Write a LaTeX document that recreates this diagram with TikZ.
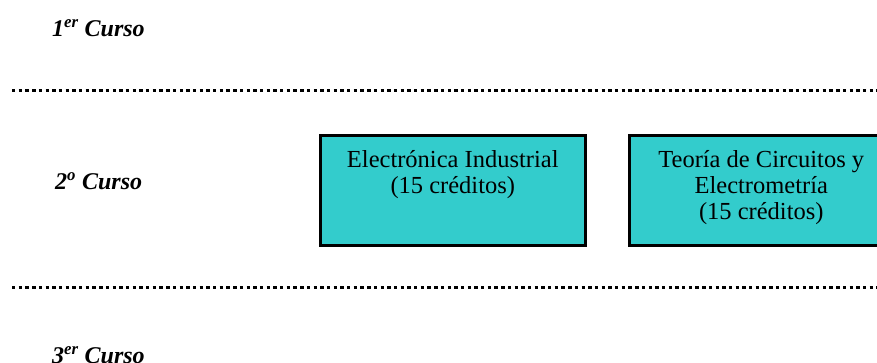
\documentclass[tikz,border=0pt]{standalone}
\usepackage{fontspec}
\setmainfont{Liberation Serif}
\definecolor{boxfill}{RGB}{51,204,204}
\begin{document}
\begin{tikzpicture}[x=1pt,y=-1pt,
  sep/.style={line width=3pt,dash pattern=on 3.4pt off 3.3pt},
  course/.style={font=\fontsize{24}{28}\selectfont\bfseries\itshape,anchor=west,inner sep=0pt},
  subj/.style={draw=black,line width=3pt,fill=boxfill,minimum width=264.5pt,minimum height=109pt,
    inner sep=0pt,anchor=north west},
  subjtext/.style={font=\fontsize{24.5}{26}\selectfont,align=center,anchor=north,inner sep=0pt}]
\useasboundingbox (0,0) rectangle (877,363);
\clip (0,0) rectangle (877,363);
\coordinate (l1a) at (12,90.5);
\coordinate (l1b) at (880,90.5);
\coordinate (l2a) at (12,287.5);
\coordinate (l2b) at (880,287.5);
\draw[sep] (l1a) -- (l1b);
\draw[sep] (l2a) -- (l2b);
\node[course] (c1) at (52,28) {1\textsuperscript{er} Curso};
\node[course] (c2) at (55,181) {2\textsuperscript{o} Curso};
\node[course] (c3) at (52,355) {3\textsuperscript{er} Curso};
\node[subj] (b1) at (319,134.5) {};
\node[subj] (b2) at (627.5,134.5) {};
\node[subjtext] (t1) at ([yshift=-16pt]b1.north) {Electrónica Industrial\\(15 créditos)};
\node[subjtext] (t2) at ([yshift=-16pt]b2.north) {Teoría de Circuitos y\\Electrometría\\(15 créditos)};
\end{tikzpicture}
\end{document}
